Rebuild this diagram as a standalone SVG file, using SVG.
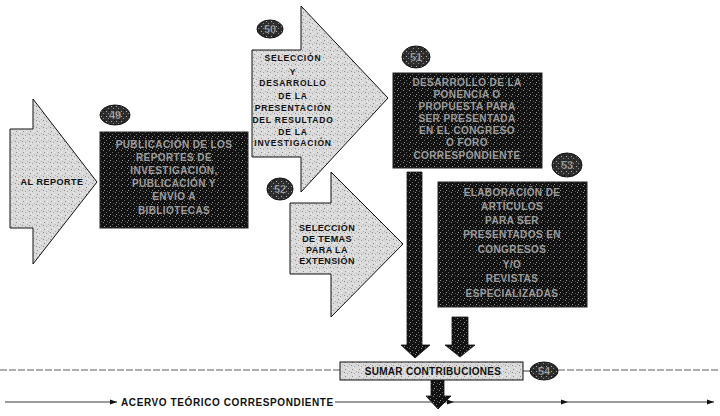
<svg xmlns="http://www.w3.org/2000/svg" width="720" height="416" viewBox="0 0 720 416">
<defs>
<pattern id="lite" width="7" height="7" patternUnits="userSpaceOnUse">
<rect width="7" height="7" fill="#dadada"/>
<rect x="1" y="1" width="1" height="1" fill="#8c8c8c"/>
<rect x="4" y="2" width="1" height="1" fill="#a0a0a0"/>
<rect x="2" y="5" width="1" height="1" fill="#909090"/>
<rect x="5" y="5" width="1" height="1" fill="#f4f4f4"/>
<rect x="6" y="0" width="1" height="1" fill="#b0b0b0"/>
<rect x="3" y="3" width="1" height="1" fill="#f0f0f0"/>
</pattern>
<pattern id="dark" width="6" height="6" patternUnits="userSpaceOnUse">
<rect width="6" height="6" fill="#121212"/>
<rect x="1" y="0" width="1" height="1" fill="#8a8a8a"/>
<rect x="4" y="2" width="1" height="1" fill="#6a6a6a"/>
<rect x="2" y="4" width="1" height="1" fill="#9a9a9a"/>
<rect x="5" y="5" width="1" height="1" fill="#555"/>
</pattern>
<pattern id="mid" width="5" height="5" patternUnits="userSpaceOnUse">
<rect width="5" height="5" fill="#2e2e2e"/>
<rect x="1" y="1" width="1" height="1" fill="#aaa"/>
<rect x="3" y="3" width="1" height="1" fill="#888"/>
<rect x="4" y="0" width="1" height="1" fill="#111"/>
</pattern>
<marker id="ah" markerWidth="8" markerHeight="6" refX="7" refY="3" orient="auto" markerUnits="userSpaceOnUse">
<path d="M0,0.5 L7,3 L0,5.5 Z" fill="#111"/>
</marker>
<style>
.arr{fill:url(#lite);stroke:#111;stroke-width:1}
.box{fill:url(#dark);stroke:#222;stroke-width:1}
.cir{fill:url(#mid);stroke:#111;stroke-width:1}
.num{font-family:"Liberation Sans",Arial,sans-serif;font-weight:bold;font-size:11px;fill:#c8c8c8;stroke:#222;stroke-width:0.4;text-anchor:middle}
.lbl{font-family:"Liberation Sans",Arial,sans-serif;font-weight:bold;font-size:8.5px;fill:#111;text-anchor:middle;letter-spacing:0.8px}
.dk{font-family:"Liberation Sans",Arial,sans-serif;font-weight:bold;font-size:10px;fill:#9c9c9c;text-anchor:middle;letter-spacing:0.4px}
.big{font-family:"Liberation Sans",Arial,sans-serif;font-weight:bold;font-size:10px;fill:#111}
.ln{stroke:#222;stroke-width:0.9;fill:none}
.dash{stroke:#333;stroke-width:0.8;fill:none;stroke-dasharray:7 2}
.down{fill:url(#dark);stroke:#111;stroke-width:0.8}
</style>
</defs>

<g id="connectors">
<line class="dash" x1="0" y1="370" x2="340" y2="370"/>
<line class="ln" x1="523" y1="371" x2="530" y2="371"/>
<line class="dash" x1="558" y1="370" x2="720" y2="370"/>
<line class="ln" x1="5" y1="402" x2="117" y2="402" marker-end="url(#ah)"/>
<line class="ln" x1="335" y1="402" x2="454" y2="402" marker-end="url(#ah)"/>
<line class="ln" x1="454" y1="402" x2="568" y2="402" marker-end="url(#ah)"/>
<line class="ln" x1="568" y1="402" x2="714" y2="402" marker-end="url(#ah)"/>
<path class="down" d="M407,172 H422 V345 H430 L415,358 L401,345 H407 Z"/>
<path class="down" d="M452,317 H468 V345 H475 L460,357 L445,345 H452 Z"/>
<path class="down" d="M431,380 H444 V396 H451 L438,409 L426,396 H431 Z"/>
</g>

<g id="n-reporte">
<path class="arr" d="M10,129 H33 V99 L97,182 L33,264 V228 H10 Z"/>
<text class="lbl" x="52" y="185" style="font-size:9px;letter-spacing:0.5px">AL REPORTE</text>
</g>

<g id="n49">
<ellipse class="cir" cx="115" cy="115" rx="15" ry="10"/>
<text class="num" x="115" y="119">49</text>
<rect class="box" x="100" y="132" width="148" height="96"/>
<text class="dk" x="174" y="148">PUBLICACIÓN DE LOS</text>
<text class="dk" x="174" y="161">REPORTES DE</text>
<text class="dk" x="174" y="174">INVESTIGACIÓN,</text>
<text class="dk" x="174" y="187">PUBLICACIÓN Y</text>
<text class="dk" x="174" y="200">ENVÍO A</text>
<text class="dk" x="174" y="214">BIBLIOTECAS</text>
</g>

<g id="n50">
<path class="arr" d="M252,50 H301 V6 L388,98 L301,192 V157 H252 Z"/>
<ellipse class="cir" cx="270" cy="29" rx="13" ry="9"/>
<text class="num" x="270" y="33">50</text>
<text class="lbl" x="293" y="61">SELECCIÓN</text>
<text class="lbl" x="293" y="75">Y</text>
<text class="lbl" x="293" y="86">DESARROLLO</text>
<text class="lbl" x="293" y="99">DE LA</text>
<text class="lbl" x="293" y="111">PRESENTACIÓN</text>
<text class="lbl" x="293" y="123">DEL RESULTADO</text>
<text class="lbl" x="293" y="135">DE LA</text>
<text class="lbl" x="293" y="146">INVESTIGACIÓN</text>
</g>

<g id="n51">
<ellipse class="cir" cx="416" cy="57" rx="14" ry="11"/>
<text class="num" x="416" y="61">51</text>
<rect class="box" x="393" y="73" width="149" height="95"/>
<text class="dk" x="467" y="86">DESARROLLO DE LA</text>
<text class="dk" x="467" y="98">PONENCIA O</text>
<text class="dk" x="467" y="110">PROPUESTA PARA</text>
<text class="dk" x="467" y="122">SER PRESENTADA</text>
<text class="dk" x="467" y="134">EN EL CONGRESO</text>
<text class="dk" x="467" y="146">O FORO</text>
<text class="dk" x="467" y="159">CORRESPONDIENTE</text>
</g>

<g id="n52">
<path class="arr" d="M290,203 H331 V172 L403,244 L331,317 V274 H290 Z"/>
<ellipse class="cir" cx="280" cy="189" rx="13" ry="11"/>
<text class="num" x="280" y="193">52</text>
<text class="lbl" x="327" y="231" style="font-size:9px;letter-spacing:0.4px">SELECCIÓN</text>
<text class="lbl" x="327" y="242" style="font-size:9px;letter-spacing:0.4px">DE TEMAS</text>
<text class="lbl" x="327" y="253" style="font-size:9px;letter-spacing:0.4px">PARA  LA</text>
<text class="lbl" x="327" y="264" style="font-size:9px;letter-spacing:0.4px">EXTENSIÓN</text>
</g>

<g id="n53">
<ellipse class="cir" cx="567" cy="165" rx="15" ry="12"/>
<text class="num" x="567" y="169">53</text>
<rect class="box" x="438" y="182" width="149" height="125"/>
<text class="dk" x="512" y="196">ELABORACIÓN DE</text>
<text class="dk" x="512" y="210">ARTÍCULOS</text>
<text class="dk" x="512" y="224">PARA SER</text>
<text class="dk" x="512" y="238">PRESENTADOS EN</text>
<text class="dk" x="512" y="253">CONGRESOS</text>
<text class="dk" x="512" y="268">Y/O</text>
<text class="dk" x="512" y="282">REVISTAS</text>
<text class="dk" x="512" y="297">ESPECIALIZADAS</text>
</g>

<g id="n54">
<rect class="arr" x="340" y="362" width="183" height="18"/>
<text class="big" x="433" y="375" text-anchor="middle" font-size="11" letter-spacing="0.3">SUMAR CONTRIBUCIONES</text>
<ellipse class="cir" cx="544" cy="371" rx="14" ry="9"/>
<text class="num" x="544" y="375">54</text>
</g>

<g id="n-acervo">
<text class="big" x="121" y="406" font-size="10.5" letter-spacing="0.6">ACERVO TEÓRICO CORRESPONDIENTE</text>
</g>
</svg>
